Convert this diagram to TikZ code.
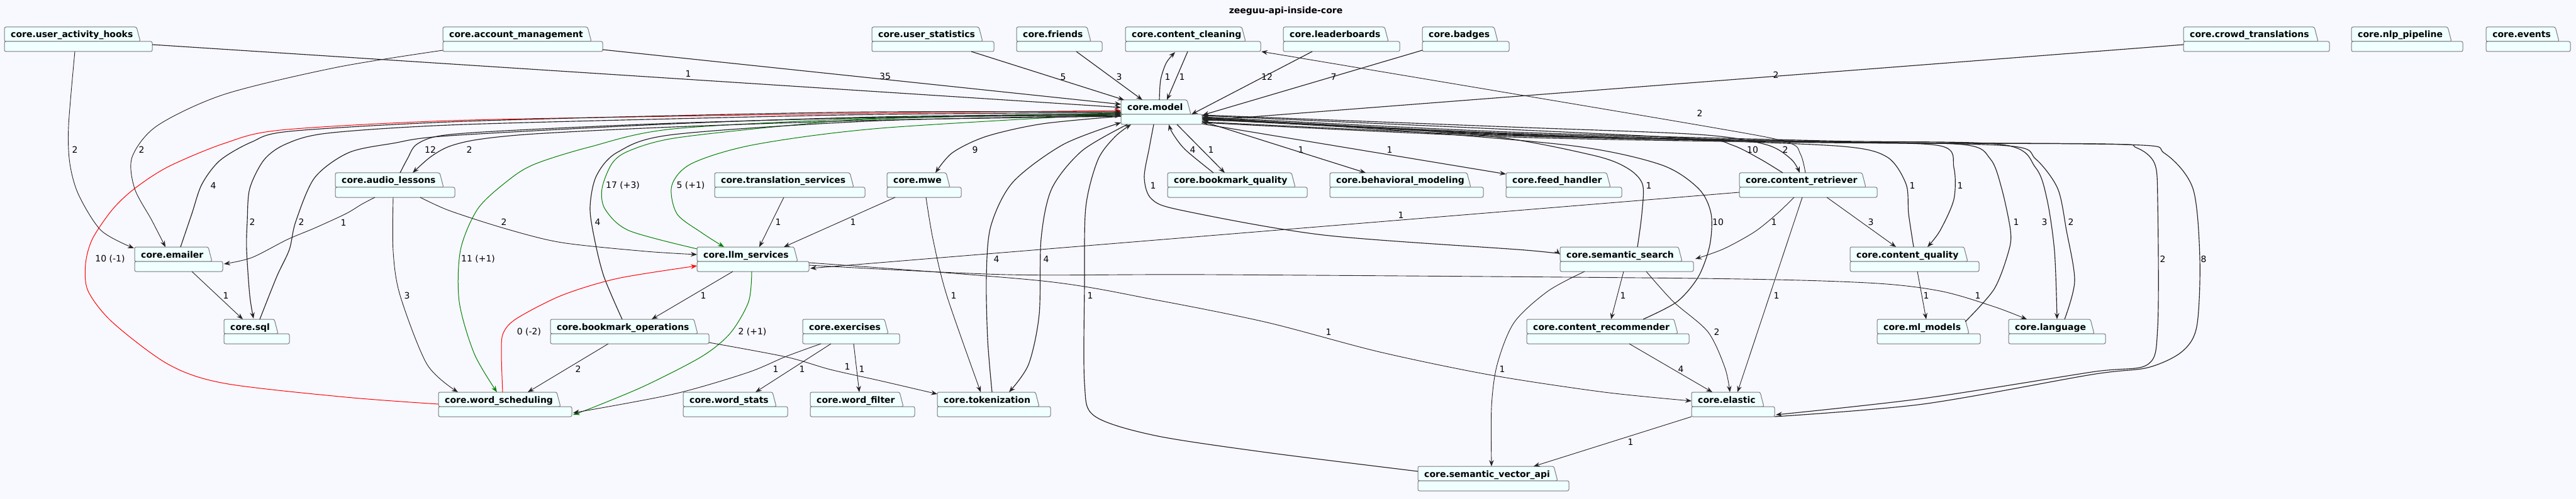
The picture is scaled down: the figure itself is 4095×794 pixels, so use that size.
\documentclass[tikz,border=0pt]{standalone}
\usepackage{fontspec}
\setmainfont{DejaVu Sans}
\usetikzlibrary{arrows.meta}
\definecolor{bgc}{HTML}{F8F8FF}
\definecolor{pkgfill}{HTML}{F0FFFF}
\definecolor{pkgline}{HTML}{7A7A7A}
\definecolor{edgecol}{HTML}{222222}
\definecolor{gedge}{HTML}{008000}
\definecolor{redge}{HTML}{FF0000}
\tikzset{
  pkgshape/.style={fill=pkgfill, draw=pkgline, line width=1pt, rounded corners=2.5pt},
  pkgtext/.style={font=\bfseries\fontsize{14}{16}\selectfont, inner sep=0pt, text=black},
  lbl/.style={font=\fontsize{14}{16}\selectfont, inner sep=0pt, text=black},
  dep/.style={draw=edgecol, line width=0.9pt, -{Stealth[length=10pt,width=7.5pt,inset=3.5pt]}},
  depm/.style={dep, line width=1.15pt},
  depg/.style={dep, draw=gedge, line width=1pt},
  depr/.style={dep, draw=redge, line width=1pt},
}
\newcommand\pkg[6]{%
  \path[pkgshape] (#2,#3+23) -- (#2,#3) -- (#4-6,#3) -- (#4,#3+23) -- cycle;
  \path[pkgshape] (#2,#3+23) rectangle (#5,#3+39);
  \node[inner sep=0pt, outer sep=0pt, minimum width={(#5-#2)*1pt}, minimum height=39pt, anchor=north west] (#1) at (#2,#3) {};
  \node[pkgtext, anchor=base west] (#1-t) at (#2+10,#3+17) {#6};
}
\newcommand\lab[4]{\node[lbl] (#1) at (#2,#3) {#4};}
\begin{document}
\begin{tikzpicture}[x=1pt,y=-1pt]
\fill[bgc] (0,0) rectangle (4095,794);
\useasboundingbox (0,0) rectangle (4095,794);
\node[pkgtext] (title) at (2044,18) {zeeguu-api-inside-core};
% packages
\pkg{uah}{7}{43}{223}{242}{core.user\_activity\_hooks}
\pkg{am}{704}{43}{940}{958}{core.account\_management}
\pkg{us}{1386}{43}{1562}{1580}{core.user\_statistics}
\pkg{fr}{1616}{43}{1734}{1752}{core.friends}
\pkg{cc}{1789}{43}{1980}{2004}{core.content\_cleaning}
\pkg{lb}{2040}{43}{2207}{2225}{core.leaderboards}
\pkg{bd}{2261}{43}{2381}{2399}{core.badges}
\pkg{ct}{3471}{43}{3685}{3703}{core.crowd\_translations}
\pkg{nlp}{3738}{43}{3897}{3915}{core.nlp\_pipeline}
\pkg{ev}{3952}{43}{4068}{4086}{core.events}
\pkg{model}{1782}{159}{1893}{1911}{core.model}
\pkg{al}{533}{275}{705}{723}{core.audio\_lessons}
\pkg{ts}{1136}{275}{1357}{1375}{core.translation\_services}
\pkg{mwe}{1410}{275}{1510}{1528}{core.mwe}
\pkg{bq}{1856}{275}{2059}{2078}{core.bookmark\_quality}
\pkg{bm}{2114}{275}{2338}{2358}{core.behavioral\_modeling}
\pkg{fh}{2394}{275}{2560}{2578}{core.feed\_handler}
\pkg{cr}{2765}{275}{2966}{2984}{core.content\_retriever}
\pkg{em}{214}{393}{337}{354}{core.emailer}
\pkg{llm}{1108}{393}{1268}{1286}{core.llm\_services}
\pkg{ss}{2480}{393}{2674}{2692}{core.semantic\_search}
\pkg{cq}{2941}{393}{3128}{3146}{core.content\_quality}
\pkg{sql}{356}{508}{442}{460}{core.sql}
\pkg{bo}{875}{508}{1109}{1127}{core.bookmark\_operations}
\pkg{ex}{1276}{508}{1412}{1430}{core.exercises}
\pkg{crec}{2427}{508}{2667}{2685}{core.content\_recommender}
\pkg{ml}{2984}{508}{3130}{3148}{core.ml\_models}
\pkg{lang}{3193}{508}{3329}{3347}{core.language}
\pkg{ws}{697}{624}{891}{909}{core.word\_scheduling}
\pkg{wst}{1086}{624}{1234}{1252}{core.word\_stats}
\pkg{wf}{1288}{624}{1436}{1454}{core.word\_filter}
\pkg{tok}{1490}{624}{1652}{1670}{core.tokenization}
\pkg{el}{2689}{624}{2804}{2821}{core.elastic}
\pkg{sva}{2254}{742}{2476}{2494}{core.semantic\_vector\_api}
% edges top row
\draw[depm] ([shift={(235,28)}]uah.north west) -- ([shift={(0,12)}]model.north west);
\lab{l1}{1094}{117}{1}
\draw[dep] plot[smooth] coordinates {([shift={(112,39)}]uah.north west) (109,200) (111,260) (125,310) (161,367) ([shift={(-1,2)}]em.north west)};
\lab{l2}{119}{238}{2}
\draw[depm] ([shift={(254,36)}]am.north west) -- ([shift={(0,7)}]model.north west);
\lab{l3}{1407}{121}{35}
\draw[dep] plot[smooth] coordinates {([shift={(0,37)}]am.north west) (536,107) (357,150) (250,200) (210,250) (214,300) (241,350) ([shift={(49,0)}]em.north west)};
\lab{l4}{225}{238}{2}
\draw[depm] ([shift={(158,39)}]us.north west) -- ([shift={(5,0)}]model.north west);
\lab{l5}{1690}{122}{5}
\draw[depm] ([shift={(95,39)}]fr.north west) -- ([shift={(34,0)}]model.north west);
\lab{l6}{1779}{122}{3}
\draw[depm] plot[smooth] coordinates {([shift={(61,0)}]model.north west) (1845,127) (1854,100) ([shift={(79,40)}]cc.north west)};
\lab{l7}{1856}{122}{1}
\draw[depm] ([shift={(99,39)}]cc.north west) -- ([shift={(73,0)}]model.north west);
\lab{l8}{1879}{122}{1}
\draw[depm] ([shift={(46,39)}]lb.north west) -- ([shift={(112,23)}]model.north west);
\lab{l9}{2014}{122}{12}
\draw[depm] ([shift={(0,37)}]bd.north west) -- ([shift={(130,24)}]model.north west);
\lab{l10}{2120}{122}{7}
\draw[depm] ([shift={(0,28)}]ct.north west) -- ([shift={(130,33)}]model.north west);
\lab{l11}{2823}{119}{2}
\draw[dep] plot[smooth] coordinates {([shift={(105,0)}]cr.north west) (2862,245) (2840,226) (2700,199) ([shift={(216,39)}]cc.north west)};
\lab{l12}{2702}{180}{2}
% model to second row
\draw[depm] plot[smooth] coordinates {([shift={(0,26)}]model.north west) (1657,197) (1568,217) (1514,243) ([shift={(77,0)}]mwe.north west)};
\lab{l13}{1550}{238}{9}
\draw[depm] ([shift={(89,39)}]model.north west) -- ([shift={(91,0)}]bq.north west);
\lab{l14}{1925}{238}{1}
\draw[depm] plot[smooth] coordinates {([shift={(73,0)}]bq.north west) (1884,238) (1864,212) ([shift={(76,39)}]model.north west)};
\lab{l15}{1896}{238}{4}
\draw[depm] ([shift={(129,34)}]model.north west) -- ([shift={(57,0)}]bm.north west);
\lab{l16}{2068}{238}{1}
\draw[depm] ([shift={(129,38)}]model.north west) -- ([shift={(0,2)}]fh.north west);
\lab{l17}{2209}{238}{1}
\draw[depm] plot[smooth] coordinates {([shift={(52,39)}]model.north west) (1827,235) (1819,283) (1831,317) (1880,335) (2104,374) (2425,398) ([shift={(0,12)}]ss.north west)};
\lab{l18}{1833}{295}{1}
\draw[depm] plot[smooth] coordinates {([shift={(123,0)}]ss.north west) (2610,340) (2611,293) (2586,267) (2532,247) (2371,217) (2104,198) ([shift={(129,32)}]model.north west)};
\lab{l19}{2621}{295}{1}
\draw[depm] plot[smooth] coordinates {([shift={(185,0)}]crec.north west) (2666,480) (2700,440) (2718,390) (2720,340) (2700,300) (2640,262) (2500,232) (2200,206) ([shift={(129,31)}]model.north west)};
\lab{l20}{2731}{353}{10}
\draw[depm] plot[smooth] coordinates {([shift={(69,0)}]cr.north west) (2798,253) (2754,231) (2700,221) (2400,206) ([shift={(129,25)}]model.north west)};
\lab{l21}{2786}{238}{10}
\draw[depm] plot[smooth] coordinates {([shift={(129,24)}]model.north west) (2400,202) (2700,214) (2807,230) (2847,253) ([shift={(96,0)}]cr.north west)};
\lab{l22}{2838}{238}{2}
\draw[depm] plot[smooth] coordinates {([shift={(129,30)}]model.north west) (2400,212) (2900,226) (3084,232) (3106,267) (3106,317) (3084,367) ([shift={(123,0)}]cq.north west)};
\lab{l23}{3116}{295}{1}
\draw[depm] plot[smooth] coordinates {([shift={(101,0)}]cq.north west) (3034,340) (3030,293) (3000,250) (2930,233) (2700,223) (2400,213) ([shift={(129,29)}]model.north west)};
\lab{l24}{3040}{295}{1}
\draw[depm] plot[smooth] coordinates {([shift={(140,4)}]ml.north west) (3170,460) (3193,400) (3196,367) (3182,300) (3164,253) (3120,230) (2900,226) (2400,214) ([shift={(129,28)}]model.north west)};
\lab{l25}{3205}{353}{1}
\draw[depm] plot[smooth] coordinates {([shift={(129,27)}]model.north west) (2400,210) (2900,224) (3182,230) (3236,267) (3254,317) (3266,400) ([shift={(77,0)}]lang.north west)};
\lab{l26}{3250}{353}{3}
\draw[depm] plot[smooth] coordinates {([shift={(89,0)}]lang.north west) (3298,447) (3285,367) (3271,300) (3236,253) (3191,232) (2900,225) (2400,215) ([shift={(129,28)}]model.north west)};
\lab{l27}{3292}{353}{2}
\draw[depm] plot[smooth] coordinates {([shift={(129,35)}]model.north west) (2400,216) (2900,226) (3343,229) (3396,235) (3425,260) (3430,320) (3430,520) (3414,580) (3325,592) (3057,634) ([shift={(134,36)}]el.north west)};
\lab{l28}{3438}{412}{2}
\draw[depm] plot[smooth] coordinates {([shift={(132,39)}]el.north west) (3057,643) (3325,596) (3414,585) (3468,560) (3492,520) (3497,413) (3486,300) (3441,244) (3379,230) (2900,227) (2400,218) ([shift={(129,36)}]model.north west)};
\lab{l29}{3503}{412}{8}
% tokenization / vector api to model
\draw[depm] plot[smooth] coordinates {([shift={(87,0)}]tok.north west) (1570,540) (1568,440) (1575,360) (1610,290) (1690,230) ([shift={(0,36)}]model.north west)};
\lab{l30}{1584}{412}{4}
\draw[depm] plot[smooth] coordinates {([shift={(10,39)}]model.north west) (1720,240) (1672,300) (1655,380) (1652,500) (1635,580) ([shift={(114,0)}]tok.north west)};
\lab{l31}{1663}{412}{4}
\draw[depm] plot[smooth] coordinates {([shift={(0,8)}]sva.north west) (2014,720) (1836,693) (1740,662) (1724,610) (1724,450) (1726,330) (1745,255) (1772,218) ([shift={(16,39)}]model.north west)};
\lab{l32}{1733}{470}{1}
% mwe, translation
\draw[dep] plot[smooth] coordinates {([shift={(62,39)}]mwe.north west) (1483,380) (1505,470) ([shift={(69,0)}]tok.north west)};
\lab{l33}{1516}{470}{1}
\draw[dep] ([shift={(13,39)}]mwe.north west) -- ([shift={(138,0)}]llm.north west);
\lab{l34}{1356}{353}{1}
\draw[dep] ([shift={(110,39)}]ts.north west) -- ([shift={(99,0)}]llm.north west);
\lab{l35}{1237}{353}{1}
% green / red
\draw[depg] plot[smooth] coordinates {([shift={(0,22)}]model.north west) (1400,204) (1200,230) (1100,260) (1068,295) (1076,340) (1115,370) ([shift={(43,0)}]llm.north west)};
\lab{l36}{1098}{295}{5 (+1)}
\draw[depg] plot[smooth] coordinates {([shift={(0,3)}]llm.north west) (1000,367) (962,333) (957,300) (973,260) (1000,240) (1071,220) (1250,200) (1400,189) ([shift={(0,21)}]model.north west)};
\lab{l37}{990}{295}{17 (+3)}
\draw[depg] plot[smooth] coordinates {([shift={(0,23)}]model.north west) (1400,188) (1071,205) (937,234) (848,262) (804,290) (759,333) (732,398) (730,480) (754,563) ([shift={(93,0)}]ws.north west)};
\lab{l38}{760}{412}{11 (+1)}
\draw[depr] plot[smooth] coordinates {([shift={(0,19)}]ws.north west) (550,632) (357,610) (268,580) (179,513) (140,463) (136,420) (147,380) (179,333) (214,300) (268,265) (357,228) (446,207) (714,192) (1071,185) (1400,180) ([shift={(0,17)}]model.north west)};
\lab{l39}{175}{412}{10 (-1)}
% left group to model
\draw[depm] plot[smooth] coordinates {([shift={(103,0)}]al.north west) (648,252) (662,230) (700,216) (804,208) (1071,196) (1400,187) ([shift={(0,24)}]model.north west)};
\lab{l40}{684}{238}{12}
\draw[depm] plot[smooth] coordinates {([shift={(0,26)}]model.north west) (1400,191) (1071,202) (850,213) (760,222) (714,233) (684,250) ([shift={(123,0)}]al.north west)};
\lab{l41}{746}{238}{2}
\draw[depm] plot[smooth] coordinates {([shift={(73,0)}]em.north west) (305,340) (321,293) (350,255) (400,226) (460,209) (714,194) (1071,184) (1400,178) ([shift={(0,19)}]model.north west)};
\lab{l42}{339}{295}{4}
\draw[depm] plot[smooth] coordinates {([shift={(0,20)}]model.north west) (1400,182) (1071,189) (714,199) (520,212) (455,229) (420,254) (397,300) (393,353) (392,397) (397,470) ([shift={(47,-1)}]sql.north west)};
\lab{l43}{401}{353}{2}
\draw[depm] plot[smooth] coordinates {([shift={(57,0)}]sql.north west) (440,440) (460,397) (470,353) (500,283) (554,243) (625,228) (714,216) (1071,197) (1400,186) ([shift={(0,22)}]model.north west)};
\lab{l44}{479}{353}{2}
\draw[depm] plot[smooth] coordinates {([shift={(114,0)}]bo.north west) (960,440) (945,380) (938,330) (948,280) (982,242) (1071,214) (1400,192) ([shift={(0,25)}]model.north west)};
\lab{l45}{950}{353}{4}
% audio lessons
\draw[dep] plot[smooth] coordinates {([shift={(63,39)}]al.north west) (575,325) (550,340) (500,363) (457,381) (400,410) ([shift={(142,27)}]em.north west)};
\lab{l46}{546}{354}{1}
\draw[dep] plot[smooth] coordinates {([shift={(135,39)}]al.north west) (714,335) (804,364) (893,386) (1027,400) ([shift={(0,12)}]llm.north west)};
\lab{l47}{801}{353}{2}
\draw[dep] plot[smooth] coordinates {([shift={(92,39)}]al.north west) (625,400) (636,470) (679,580) ([shift={(31,0)}]ws.north west)};
\lab{l48}{647}{470}{3}
% llm / word scheduling
\draw[depr] plot[smooth] coordinates {([shift={(102,0)}]ws.north west) (797,560) (800,530) (821,507) (893,470) (982,443) ([shift={(0,30)}]llm.north west)};
\lab{l49}{841}{528}{0 (-2)}
\draw[depg] plot[smooth] coordinates {([shift={(87,39)}]llm.north west) (1190,480) (1161,530) (1116,567) (1027,613) (946,647) ([shift={(214,36)}]ws.north west)};
\lab{l50}{1196}{528}{2 (+1)}
\draw[dep] ([shift={(57,39)}]llm.north west) -- ([shift={(161,0)}]bo.north west);
\lab{l51}{1118}{470}{1}
\draw[dep] ([shift={(91,39)}]em.north west) -- ([shift={(30,0)}]sql.north west);
\lab{l52}{359}{470}{1}
\draw[dep] ([shift={(92,39)}]bo.north west) -- ([shift={(142,0)}]ws.north west);
\lab{l53}{919}{587}{2}
\draw[dep] plot[smooth] coordinates {([shift={(252,37)}]bo.north west) (1250,568) (1320,588) (1400,606) ([shift={(0,3)}]tok.north west)};
\lab{l54}{1347}{583}{1}
\draw[dep] plot[smooth] coordinates {([shift={(29,39)}]ex.north west) (1250,567) (1188,593) (1071,627) ([shift={(214,33)}]ws.north west)};
\lab{l55}{1233}{587}{1}
\draw[dep] ([shift={(45,39)}]ex.north west) -- ([shift={(115,0)}]wst.north west);
\lab{l56}{1275}{587}{1}
\draw[dep] ([shift={(81,39)}]ex.north west) -- ([shift={(78,0)}]wf.north west);
\lab{l57}{1370}{587}{1}
% right side
\draw[dep] ([shift={(0,31)}]cr.north west) -- ([shift={(180,34)}]llm.north west);
\lab{l58}{2227}{342}{1}
\draw[dep] plot[smooth] coordinates {([shift={(178,25)}]llm.north west) (1657,447) (1836,477) (2014,513) (2193,560) (2371,597) (2550,624) ([shift={(0,14)}]el.north west)};
\lab{l59}{2112}{528}{1}
\draw[dep] plot[smooth] coordinates {([shift={(178,29)}]llm.north west) (1600,437) (1925,437) (2700,443) (2968,450) (3084,463) (3170,488) ([shift={(29,0)}]lang.north west)};
\lab{l60}{3144}{470}{1}
\draw[dep] plot[smooth] coordinates {([shift={(87,39)}]cr.north west) (2825,340) (2789,369) (2740,396) ([shift={(215,19)}]ss.north west)};
\lab{l61}{2820}{353}{1}
\draw[dep] ([shift={(139,39)}]cr.north west) -- ([shift={(73,0)}]cq.north west);
\lab{l62}{2974}{353}{3}
\draw[dep] ([shift={(100,39)}]cr.north west) -- ([shift={(73,0)}]el.north west);
\lab{l63}{2824}{470}{1}
\draw[dep] ([shift={(101,39)}]ss.north west) -- ([shift={(134,0)}]crec.north west);
\lab{l64}{2580}{470}{1}
\draw[dep] plot[smooth] coordinates {([shift={(39,39)}]ss.north west) (2461,463) (2407,513) (2380,580) (2371,647) ([shift={(117,0)}]sva.north west)};
\lab{l65}{2388}{587}{1}
\draw[dep] plot[smooth] coordinates {([shift={(137,39)}]ss.north west) (2660,480) (2715,528) (2742,585) ([shift={(61,0)}]el.north west)};
\lab{l66}{2729}{528}{2}
\draw[dep] ([shift={(163,39)}]crec.north west) -- ([shift={(33,0)}]el.north west);
\lab{l67}{2672}{587}{4}
\draw[dep] ([shift={(0,39)}]el.north west) -- ([shift={(184,0)}]sva.north west);
\lab{l68}{2592}{703}{1}
\draw[dep] ([shift={(107,39)}]cq.north west) -- ([shift={(78,0)}]ml.north west);
\lab{l69}{3062}{470}{1}
\end{tikzpicture}
\end{document}
